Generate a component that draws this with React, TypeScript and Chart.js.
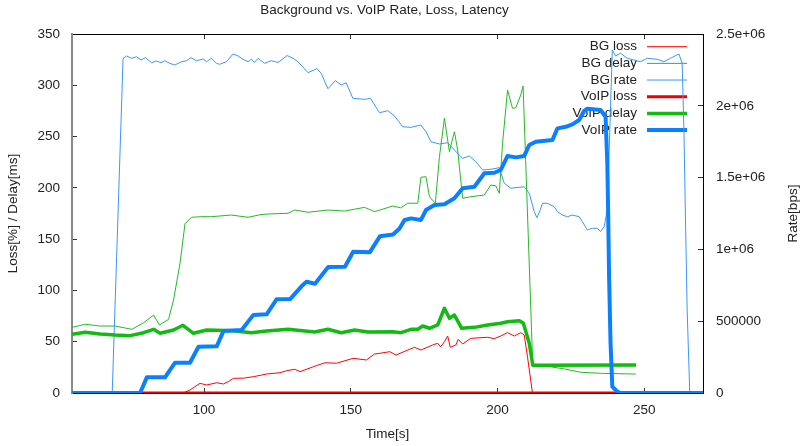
import React, { useEffect, useRef } from 'react';
import { Chart, registerables } from 'chart.js';

Chart.register(...registerables);

// ---------- data ----------
const chartTitle = 'Background vs. VoIP Rate, Loss, Latency';
const xTitle = 'Time[s]';
const yTitle = 'Loss[%] / Delay[ms]';
const y2Title = 'Rate[bps]';

const xTicks = [100, 150, 200, 250];
const seriesNames = ['BG loss', 'BG delay', 'BG rate', 'VoIP loss', 'VoIP delay', 'VoIP rate'];

const bgLossT = [55, 92.9, 95.2, 98.6, 100.9, 104.3, 106.6, 108.2, 110.0, 113.5, 116.8, 121.3, 125.9, 128.1, 130.9, 132.7, 137.2, 141.2, 145.1, 150.8, 155.3, 158.1, 159.9, 163.3, 165.4, 169.4, 171.7, 173.9, 177.9, 179.6, 180.6, 181.9, 183.0, 183.9, 185.8, 186.6, 188.1, 190.9, 196.6, 198.9, 201.1, 203.4, 205.7, 207.9, 209.1, 210.2, 211.9, 247];
const bgLossV = [0, 0, 2.9, 9.4, 7.8, 10, 8.8, 11, 14.3, 14.5, 15.9, 18.5, 19.8, 21.7, 23.1, 20.8, 25.6, 29.5, 29, 33.8, 32.2, 38, 38.7, 40.3, 37, 41.9, 44.5, 41.9, 46.8, 48.5, 45, 50, 55.6, 44.5, 46.8, 52.3, 47.8, 53.3, 54.3, 53, 55.6, 58.8, 55.6, 58.8, 56.5, 35.4, 0, 0];

const bgDelayT = [55, 59.5, 64.6, 69.7, 75.4, 79.4, 82.8, 84.8, 87.9, 89.6, 91.8, 93.5, 95.7, 99.1, 102.5, 109.3, 115, 119.4, 121.8, 128.6, 130.9, 135.4, 142.2, 147.9, 154.7, 158.1, 164.3, 167, 169.4, 172.8, 173.9, 175.6, 176.8, 178.8, 180.2, 181.9, 183.6, 185.3, 186.4, 188.1, 190.9, 195.5, 197.7, 199.4, 200.6, 201.7, 203.4, 205.1, 206.2, 207.9, 208.7, 212.0, 217, 222.7, 228.3, 235, 247.1];
const bgDelayV = [64, 67, 65.3, 65.3, 62.1, 68.5, 76, 66.3, 71.8, 90.7, 126.4, 165, 171.3, 171.9, 171.9, 173.5, 171.3, 174, 174.5, 175.2, 178.4, 176.2, 178.4, 177.4, 181, 176.8, 182.3, 180.5, 185, 185, 210.3, 210.9, 191.4, 185, 230.4, 267.8, 235.3, 254.8, 236.9, 189.8, 191.4, 193, 202.8, 202, 194.7, 243.4, 295.4, 277.6, 278, 290.5, 299.3, 26, 26, 23.5, 20.2, 19.2, 18.5];

const bgRateT = [55, 68.7, 72.4, 73.6, 75.3, 77.0, 78.5, 80.0, 82.1, 83.8, 85.3, 86.6, 88.3, 90.0, 92.3, 94.0, 95.5, 97.4, 99.7, 100.8, 102.5, 104.2, 105.3, 107.6, 109.9, 111.6, 113.3, 115, 116.1, 117.2, 118.4, 120.6, 122.9, 125.2, 128.3, 130.3, 132, 135.4, 138.5, 139.9, 142.2, 144.7, 146.7, 148.4, 150.7, 154.7, 156.7, 159.8, 162.6, 164.9, 167.7, 170.5, 173.9, 175.6, 177.3, 180.2, 183, 185.3, 188.1, 190.4, 192.6, 194.9, 197.7, 200.6, 202.3, 204.5, 209.1, 210.8, 212.5, 213.4, 214.5, 215.3, 217, 219.3, 220.4, 222.1, 223.8, 225.5, 227.8, 228.9, 230.6, 232.3, 234, 235.1, 236.3, 237.4, 239.1, 240.2, 241.9, 244.2, 248.7, 251, 254.4, 256.7, 258.9, 261.8, 262.9, 263.5, 264, 264.6, 265.5, 270];
const bgRateV = [0, 0, 2330000, 2347000, 2331000, 2342000, 2319000, 2335000, 2300000, 2312000, 2300000, 2314000, 2296000, 2284000, 2307000, 2314000, 2335000, 2314000, 2326000, 2307000, 2331000, 2296000, 2289000, 2307000, 2361000, 2347000, 2324000, 2307000, 2324000, 2302000, 2331000, 2296000, 2314000, 2302000, 2350000, 2331000, 2307000, 2231000, 2259000, 2226000, 2119000, 2175000, 2145000, 2161000, 2052000, 2045000, 2052000, 1952000, 1966000, 1929000, 1854000, 1850000, 1866000, 1820000, 1750000, 1734000, 1743000, 1692000, 1634000, 1650000, 1611000, 1553000, 1558000, 1569000, 1460000, 1426000, 1436000, 1391000, 1263000, 1221000, 1271000, 1321000, 1321000, 1297000, 1263000, 1239000, 1228000, 1239000, 1228000, 1193000, 1135000, 1147000, 1147000, 1124000, 1158000, 1274000, 2389000, 2347000, 2366000, 2331000, 2307000, 2331000, 2324000, 2307000, 2331000, 2361000, 2296000, 1831000, 1239000, 578000, 0, 0];

const voipLossT = [55, 241.5];
const voipLossV = [0, 0];

const voipDelayT = [55, 59.5, 64.6, 69.7, 74.8, 79.4, 82.8, 85, 89.6, 92.8, 96.4, 100.9, 110, 116.1, 121.3, 128.6, 137.7, 142.2, 146.7, 151.3, 155.8, 164.3, 167.1, 170.5, 172.8, 174.5, 176.8, 179.6, 181.9, 183.6, 185.3, 187.8, 192.1, 196.6, 201.1, 203.4, 207.4, 208.8, 210.8, 212, 247.2];
const voipDelayV = [57.2, 59.2, 57.5, 56.5, 55.9, 58.8, 62.1, 58.2, 61.4, 66, 58.2, 61.4, 60.7, 58.8, 60.4, 62.1, 59.5, 62.1, 58.8, 61.4, 59.5, 59.8, 58.8, 62.1, 62.1, 65.3, 63.1, 66.3, 82.6, 72.8, 76, 63.1, 64, 66.3, 68, 69.5, 70.5, 68, 48.5, 27, 27.3];

const voipRateT = [55, 78.2, 80.5, 86.7, 90.1, 95.2, 98.1, 104.3, 106.6, 112.8, 116.8, 121.3, 124.7, 129.3, 133.2, 134.9, 137.8, 142.3, 148, 150.8, 156.5, 159.9, 164.4, 166.6, 168.3, 170.5, 173.9, 175.6, 178.5, 181.9, 185.3, 188.1, 192.1, 195.5, 198.9, 201.1, 203.4, 206.2, 209.1, 210.8, 213, 218.7, 220.4, 223.2, 225.5, 227.8, 229.5, 230.6, 235.1, 236.8, 237.4, 237.7, 238, 238.5, 239.1, 240.8, 241.9, 270];
const voipRateV = [0, 0, 109000, 109000, 211000, 211000, 322000, 325000, 431000, 439000, 544000, 548000, 652000, 654000, 743000, 775000, 761000, 877000, 879000, 984000, 981000, 1091000, 1104000, 1146000, 1205000, 1216000, 1205000, 1274000, 1309000, 1314000, 1356000, 1426000, 1436000, 1530000, 1534000, 1553000, 1651000, 1641000, 1651000, 1727000, 1750000, 1762000, 1843000, 1854000, 1871000, 1901000, 1964000, 1980000, 1971000, 1924000, 1600000, 1239000, 810000, 346000, 44000, 9000, 0, 0];

// ---------- styling ----------
const FAMILY = "'Liberation Sans', Arial, sans-serif";
const FSIZE = 13.5;
const TEXT = '#222';
const font = { family: FAMILY, size: FSIZE, lineHeight: 1.2 };

const toPoints = (t: number[], v: number[]) => t.map((x, i) => ({ x, y: v[i] }));

const styles = [
  { color: '#ff0000', width: 1, axis: 'y' },
  { color: '#22bb22', width: 1, axis: 'y' },
  { color: '#3a96ff', width: 1, axis: 'y2' },
  { color: '#ee0000', width: 3, axis: 'y' },
  { color: '#11bb11', width: 3.5, axis: 'y' },
  { color: '#0a80ff', width: 4, axis: 'y2' },
];

const seriesData = [
  toPoints(bgLossT, bgLossV),
  toPoints(bgDelayT, bgDelayV),
  toPoints(bgRateT, bgRateV),
  toPoints(voipLossT, voipLossV),
  toPoints(voipDelayT, voipDelayV),
  toPoints(voipRateT, voipRateV),
];

const fmtRate = (v: number) => {
  if (v === 0) return '0';
  if (v < 1e6) return String(v);
  const m = v / 1e6;
  return `${Number(m.toFixed(2))}e+06`;
};

const gnuPlugin = {
  id: 'gnuDecor',
  beforeDatasetsDraw(chart: any) {
    const { ctx, chartArea } = chart;
    ctx.save();
    ctx.font = `${FSIZE}px ${FAMILY}`;
    ctx.fillStyle = TEXT;
    ctx.textAlign = 'right';
    ctx.textBaseline = 'middle';
    const right = chartArea.right;
    chart.data.datasets.forEach((ds: any, i: number) => {
      const y = chartArea.top + 12.7 + i * 16.67;
      ctx.fillText(ds.label, right - 66, y);
      ctx.strokeStyle = ds.borderColor;
      ctx.lineWidth = ds.borderWidth;
      ctx.beginPath();
      ctx.moveTo(right - 56, y);
      ctx.lineTo(right - 16, y);
      ctx.stroke();
    });
    ctx.restore();
  },
  afterDraw(chart: any) {
    const { ctx, chartArea } = chart;
    ctx.save();
    ctx.font = `${FSIZE}px ${FAMILY}`;
    ctx.fillStyle = TEXT;
    ctx.textAlign = 'center';
    ctx.textBaseline = 'middle';
    ctx.fillText(chartTitle, 384.5, 10);
    ctx.translate(793, (chartArea.top + chartArea.bottom) / 2);
    ctx.rotate(-Math.PI / 2);
    ctx.fillText(y2Title, 0, 0);
    ctx.restore();
  },
};

export default function App() {
  const ref = useRef<HTMLCanvasElement>(null);

  useEffect(() => {
    if (!ref.current) return;
    const setTicks = (s: any) => {
      s.ticks = xTicks.map((v) => ({ value: v }));
    };
    const chart = new Chart(ref.current, {
      type: 'line',
      data: {
        datasets: seriesNames.map((name, i) => ({
          label: name,
          data: seriesData[i],
          borderColor: styles[i].color,
          backgroundColor: styles[i].color,
          borderWidth: styles[i].width,
          yAxisID: styles[i].axis,
          pointRadius: 0,
          pointHoverRadius: 0,
          tension: 0,
          fill: false,
          borderJoinStyle: 'round',
          order: seriesNames.length - 1 - i,
        })),
      },
      options: {
        animation: false,
        responsive: false,
        maintainAspectRatio: false,
        parsing: true,
        layout: { padding: { top: 34, left: 0, right: 0, bottom: 0 } },
        plugins: {
          legend: { display: false },
          title: { display: false },
          tooltip: { enabled: false },
        },
        scales: {
          x: {
            type: 'linear',
            position: 'bottom',
            min: 55,
            max: 270,
            afterBuildTicks: setTicks,
            afterFit: (s: any) => { s.height = 53; },
            grid: { drawOnChartArea: false, drawTicks: true, tickLength: -5, color: '#333' },
            border: { color: '#000', width: 1 },
            ticks: { padding: 14, font, color: TEXT, maxRotation: 0, autoSkip: false },
            title: { display: true, text: xTitle, font, color: TEXT, padding: { top: 0, bottom: 4 } },
          },
          x2: {
            type: 'linear',
            position: 'top',
            min: 55,
            max: 270,
            afterBuildTicks: setTicks,
            afterFit: (s: any) => { s.height = 0; },
            grid: { drawOnChartArea: false, drawTicks: true, tickLength: -5, color: '#333' },
            border: { color: '#000', width: 1 },
            ticks: { display: false },
          },
          y: {
            type: 'linear',
            position: 'left',
            min: 0,
            max: 350,
            afterFit: (s: any) => { s.width = 72; },
            grid: { drawOnChartArea: false, drawTicks: true, tickLength: -5, color: '#333' },
            border: { color: '#888', width: 2 },
            ticks: { stepSize: 50, padding: 17, font, color: TEXT },
            title: { display: true, text: yTitle, font, color: TEXT, padding: { top: 5, bottom: 0 } },
          },
          y2: {
            type: 'linear',
            position: 'right',
            min: 0,
            max: 2500000,
            afterFit: (s: any) => { s.width = 98; },
            grid: { drawOnChartArea: false, drawTicks: true, tickLength: -5, color: '#333' },
            border: { color: '#000', width: 1 },
            ticks: { stepSize: 500000, padding: 18, font, color: TEXT, callback: (v: any) => fmtRate(Number(v)) },
          },
        },
      },
      plugins: [gnuPlugin],
    } as any);
    return () => chart.destroy();
  }, []);

  return (
    <div style={{ position: 'absolute', left: 0, top: 0, width: 801, height: 446, background: '#fff' }}>
      <canvas ref={ref} width={801} height={446} style={{ display: 'block' }} />
    </div>
  );
}
